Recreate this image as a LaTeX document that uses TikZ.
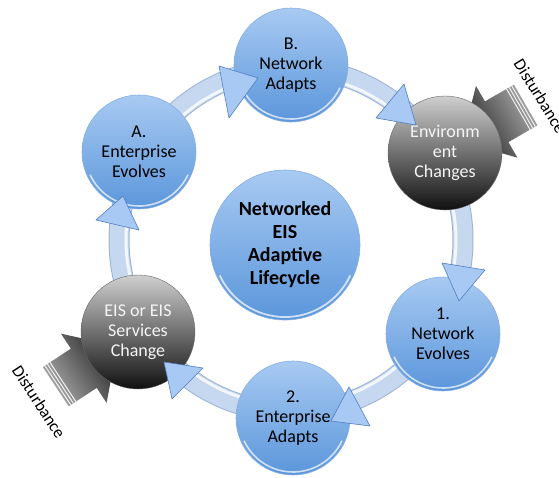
\documentclass[tikz,border=0pt]{standalone}
\usepackage{fontspec}
\setmainfont{Carlito}
\definecolor{ringc}{HTML}{C5D8F0}
\definecolor{ringedge}{HTML}{9DB3D3}
\definecolor{btop}{HTML}{A8CAF2}
\definecolor{bbot}{HTML}{5B96DB}
\definecolor{bedge}{HTML}{86AEE0}
\definecolor{gtop}{HTML}{CFCFCF}
\definecolor{gbot}{HTML}{101010}
\definecolor{trifill}{HTML}{A9C9F5}
\definecolor{triedge}{HTML}{4F7FC0}
\definecolor{dtail}{HTML}{A0A0A0}
\definecolor{dtip}{HTML}{151515}
\tikzset{
  bluecirc/.style={circle, minimum size=114pt, inner sep=0pt, top color=btop, bottom color=bbot,
    draw=bedge, line width=0.6pt, align=center, font=\fontsize{18}{20}\selectfont,
    path picture={\draw[white,opacity=.7,line width=1.6pt]
      (path picture bounding box.center) ++(205:54pt) arc (205:335:54pt);}},
  graycirc/.style={circle, minimum size=114pt, inner sep=0pt, top color=gtop, bottom color=gbot,
    draw=black!60, line width=0.4pt, align=center, text=white!96!black,
    font=\fontsize{18}{20}\selectfont},
  bigcirc/.style={bluecirc, minimum size=150pt, font=\bfseries\fontsize{20}{23}\selectfont,
    path picture={\draw[white,opacity=.7,line width=1.8pt]
      (path picture bounding box.center) ++(205:72pt) arc (205:335:72pt);}},
  tri/.style={fill=trifill, draw=triedge, line width=0.6pt, line join=round},
  distlabel/.style={font=\fontsize{17}{20}\selectfont, inner sep=0pt},
  distarrow/.style={left color=dtail, right color=dtip},
  stripe/.style={white!90!gray, line width=1pt}
}
\begin{document}
\begin{tikzpicture}[x=1pt,y=1pt]
\useasboundingbox (0,0) rectangle (559,-477);
% ring
\coordinate (rc) at (291,-240);
\draw[ringedge, line width=21pt] (rc) circle (172);
\draw[ringc, line width=19pt] (rc) circle (172);
\draw[white, opacity=.8, line width=3pt] (rc) circle (165);
% disturbance arrows
\begin{scope}[transform canvas={shift={(525.7pt,-105pt)},rotate=210}]
  \shade[distarrow] (0,-23.5) -- (33.5,-23.5) -- (33.5,-41.5) -- (73.5,0) -- (33.5,41.5) -- (33.5,23.5) -- (0,23.5) -- cycle;
  \foreach \s in {2.5,5.5,8.5} \draw[stripe] (\s,-23.5) -- (\s,23.5);
\end{scope}
\begin{scope}[transform canvas={shift={(55.8pt,-386.7pt)},rotate=33.4}]
  \shade[distarrow] (0,-23.5) -- (33.5,-23.5) -- (33.5,-41.5) -- (73.5,0) -- (33.5,41.5) -- (33.5,23.5) -- (0,23.5) -- cycle;
  \foreach \s in {2.5,5.5,8.5} \draw[stripe] (\s,-23.5) -- (\s,23.5);
\end{scope}
% circles
\node[bluecirc] (B) at (291,-65) {B.\\Network\\Adapts};
\node[bluecirc] (A) at (139,-152) {A.\\Enterprise\\Evolves};
\node[graycirc] (Env) at (445,-153) {Environm\\ent\\Changes};
\node[graycirc] (EIS) at (138,-332) {EIS or EIS\\Services\\Change};
\node[bluecirc] (N1) at (443,-334) {1.\\Network\\Evolves};
\node[bluecirc] (E2) at (293,-418) {2.\\Enterprise\\Adapts};
\node[bigcirc] (C) at (285,-245) {Networked\\EIS\\Adaptive\\Lifecycle};
% ring arrowheads
\draw[tri] (219,-66) -- (258,-78) -- (229,-118) -- cycle;
\draw[tri] (404,-84) -- (416,-125) -- (376,-118) -- cycle;
\draw[tri] (442,-263) -- (485,-270) -- (459,-301) -- cycle;
\draw[tri] (349,-387) -- (370,-426) -- (331,-421) -- cycle;
\draw[tri] (164,-362) -- (203,-368) -- (172,-399) -- cycle;
\draw[tri] (123,-196) -- (139,-230) -- (96,-220) -- cycle;
% labels
\node[distlabel, rotate=-58] (d1) at (540,-96) {Disturbance};
\node[distlabel, rotate=-57] (d2) at (39,-402) {Disturbance};
\end{tikzpicture}
\end{document}
